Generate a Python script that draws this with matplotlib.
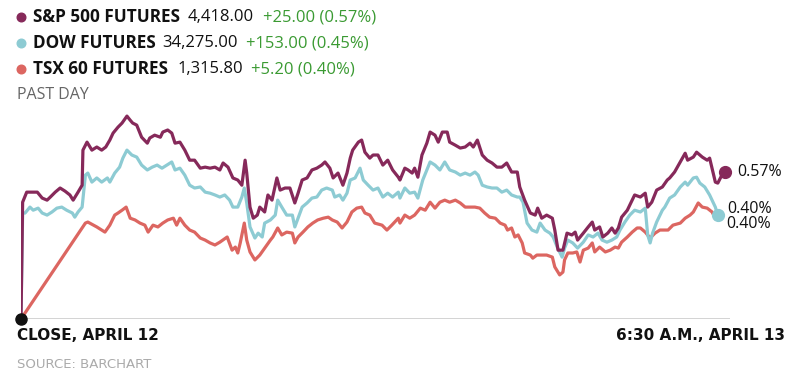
import matplotlib
matplotlib.use("Agg")
import matplotlib.pyplot as plt
from matplotlib.lines import Line2D

# minutes after the April 12 close, and % change
sp_min = [0, 2, 7, 15, 20, 26, 32, 36, 42, 48, 54, 60, 64, 70, 75, 76, 81, 87, 93, 99,
          104, 109, 113, 119, 124, 130, 134, 137, 142, 148, 155, 158, 164, 171, 174, 180, 185, 189, 195, 201,
          207, 213, 220, 226, 232, 238, 244, 248, 254, 260, 266, 271, 275, 277, 281, 285, 290, 293, 299, 303,
          308, 314, 318, 324, 330, 336, 340, 345, 351, 357, 363, 369, 373, 379, 383, 389, 395, 400, 404, 407,
          414, 418, 422, 428, 432, 438, 444, 450, 456, 463, 465, 471, 475, 480, 483, 487, 492, 498, 502, 508,
          512, 517, 523, 526, 533, 539, 545, 551, 555, 560, 566, 572, 578, 584, 590, 596, 602, 609, 612, 618,
          625, 631, 634, 639, 645, 652, 655, 659, 665, 670, 676, 680, 683, 690, 696, 701, 704, 710, 714, 720,
          725, 729, 733, 737, 744, 750, 753, 760, 766, 769, 774, 780, 787, 793, 796, 802, 809, 815, 818, 825,
          829, 836, 842, 845, 852, 855, 860, 864]
sp_pct = [0.0, 0.453, 0.492, 0.492, 0.492, 0.469, 0.461, 0.473, 0.492, 0.508, 0.496, 0.481, 0.461, 0.492, 0.519, 0.655, 0.686, 0.655, 0.667, 0.655,
          0.667, 0.694, 0.721, 0.744, 0.760, 0.787, 0.771, 0.760, 0.752, 0.705, 0.682, 0.702, 0.713, 0.705, 0.725, 0.733, 0.721, 0.682, 0.686, 0.655,
          0.616, 0.616, 0.585, 0.589, 0.585, 0.589, 0.578, 0.605, 0.589, 0.547, 0.539, 0.519, 0.616, 0.566, 0.434, 0.391, 0.403, 0.434, 0.415, 0.481,
          0.461, 0.547, 0.500, 0.508, 0.508, 0.450, 0.488, 0.539, 0.547, 0.578, 0.585, 0.597, 0.609, 0.585, 0.547, 0.566, 0.519, 0.566, 0.624, 0.655,
          0.686, 0.694, 0.647, 0.624, 0.636, 0.636, 0.597, 0.616, 0.578, 0.550, 0.539, 0.585, 0.578, 0.566, 0.585, 0.550, 0.636, 0.682, 0.725, 0.713,
          0.686, 0.725, 0.725, 0.686, 0.674, 0.663, 0.667, 0.682, 0.667, 0.694, 0.636, 0.616, 0.605, 0.589, 0.589, 0.605, 0.570, 0.570, 0.512, 0.461,
          0.411, 0.403, 0.430, 0.391, 0.403, 0.391, 0.345, 0.267, 0.267, 0.333, 0.326, 0.337, 0.306, 0.333, 0.357, 0.376, 0.345, 0.357, 0.318, 0.333,
          0.353, 0.333, 0.353, 0.395, 0.422, 0.461, 0.481, 0.473, 0.488, 0.434, 0.453, 0.500, 0.512, 0.539, 0.547, 0.570, 0.609, 0.643, 0.616, 0.628,
          0.647, 0.628, 0.616, 0.624, 0.531, 0.527, 0.558, 0.570]

dow_min = [0, 2, 5, 11, 15, 21, 26, 32, 38, 44, 50, 56, 63, 66, 70, 75, 79, 82, 87, 93,
           99, 106, 109, 115, 121, 125, 130, 136, 142, 148, 155, 161, 167, 173, 179, 185, 189, 195, 201, 207,
           213, 220, 226, 232, 238, 244, 250, 256, 260, 266, 271, 274, 277, 281, 287, 291, 296, 299, 306, 312,
           315, 320, 326, 333, 336, 340, 345, 351, 357, 363, 369, 375, 382, 385, 391, 395, 400, 404, 410, 416,
           420, 426, 432, 438, 444, 450, 456, 463, 465, 471, 477, 483, 487, 493, 502, 508, 514, 520, 526, 533,
           539, 545, 551, 557, 561, 566, 572, 578, 584, 590, 596, 602, 609, 612, 616, 621, 627, 633, 637, 643,
           649, 653, 658, 664, 667, 671, 677, 683, 690, 696, 702, 708, 713, 719, 725, 731, 735, 741, 747, 753,
           760, 766, 769, 772, 775, 780, 787, 790, 796, 802, 809, 815, 818, 825, 829, 833, 839, 845, 852, 855]
dow_pct = [0.0, 0.411, 0.411, 0.434, 0.422, 0.430, 0.411, 0.403, 0.415, 0.430, 0.434, 0.422, 0.411, 0.395, 0.415, 0.434, 0.558, 0.566, 0.531, 0.547,
           0.531, 0.547, 0.531, 0.566, 0.589, 0.624, 0.655, 0.636, 0.628, 0.597, 0.578, 0.589, 0.597, 0.585, 0.597, 0.609, 0.578, 0.585, 0.558, 0.519,
           0.508, 0.512, 0.492, 0.488, 0.481, 0.473, 0.481, 0.461, 0.434, 0.434, 0.473, 0.508, 0.450, 0.357, 0.314, 0.333, 0.318, 0.372, 0.384, 0.403,
           0.461, 0.434, 0.403, 0.403, 0.357, 0.391, 0.434, 0.450, 0.469, 0.473, 0.500, 0.508, 0.500, 0.473, 0.481, 0.461, 0.488, 0.539, 0.547, 0.585,
           0.539, 0.519, 0.500, 0.508, 0.473, 0.488, 0.473, 0.492, 0.469, 0.508, 0.488, 0.492, 0.469, 0.539, 0.609, 0.597, 0.578, 0.609, 0.578, 0.570,
           0.558, 0.566, 0.558, 0.570, 0.558, 0.519, 0.512, 0.508, 0.508, 0.492, 0.500, 0.481, 0.473, 0.473, 0.453, 0.372, 0.345, 0.337, 0.372, 0.345,
           0.333, 0.318, 0.279, 0.240, 0.275, 0.306, 0.295, 0.275, 0.298, 0.326, 0.318, 0.333, 0.306, 0.298, 0.306, 0.318, 0.345, 0.376, 0.403, 0.422,
           0.415, 0.430, 0.326, 0.295, 0.333, 0.376, 0.422, 0.434, 0.469, 0.481, 0.512, 0.531, 0.519, 0.547, 0.550, 0.527, 0.512, 0.481, 0.434, 0.403]

tsx_min = [0, 79, 82, 93, 103, 109, 115, 119, 124, 129, 134, 140, 146, 152, 156, 162, 168, 174, 180, 187,
           191, 195, 201, 207, 213, 220, 226, 232, 238, 244, 253, 259, 263, 266, 269, 274, 277, 281, 287, 293,
           299, 306, 309, 315, 320, 326, 333, 336, 340, 346, 352, 358, 364, 371, 377, 382, 388, 394, 400, 406,
           412, 418, 422, 428, 434, 443, 449, 455, 463, 465, 471, 477, 483, 490, 496, 502, 508, 514, 520, 526,
           533, 539, 545, 551, 557, 563, 569, 575, 582, 588, 594, 597, 602, 606, 610, 615, 618, 625, 628, 633,
           639, 645, 652, 655, 661, 665, 667, 671, 677, 682, 686, 690, 696, 701, 704, 710, 717, 723, 729, 733,
           737, 744, 750, 756, 760, 766, 772, 778, 784, 794, 800, 809, 815, 821, 825, 831, 836, 842, 848, 852]
tsx_pct = [0.0, 0.372, 0.376, 0.357, 0.337, 0.364, 0.403, 0.411, 0.422, 0.434, 0.391, 0.384, 0.372, 0.364, 0.337, 0.364, 0.357, 0.372, 0.384, 0.391,
           0.364, 0.391, 0.364, 0.345, 0.337, 0.314, 0.306, 0.295, 0.287, 0.298, 0.318, 0.267, 0.279, 0.256, 0.295, 0.372, 0.306, 0.260, 0.229, 0.248,
           0.275, 0.306, 0.318, 0.353, 0.326, 0.337, 0.333, 0.295, 0.318, 0.337, 0.357, 0.372, 0.384, 0.391, 0.395, 0.384, 0.376, 0.353, 0.376, 0.415,
           0.430, 0.434, 0.411, 0.403, 0.372, 0.364, 0.345, 0.364, 0.391, 0.372, 0.403, 0.391, 0.403, 0.430, 0.422, 0.453, 0.430, 0.453, 0.461, 0.453,
           0.461, 0.450, 0.434, 0.434, 0.434, 0.430, 0.411, 0.395, 0.391, 0.372, 0.364, 0.345, 0.353, 0.318, 0.326, 0.295, 0.256, 0.248, 0.236, 0.248,
           0.248, 0.248, 0.240, 0.202, 0.171, 0.182, 0.229, 0.256, 0.256, 0.260, 0.221, 0.267, 0.275, 0.295, 0.260, 0.279, 0.260, 0.267, 0.279, 0.275,
           0.298, 0.318, 0.337, 0.353, 0.353, 0.337, 0.314, 0.333, 0.345, 0.345, 0.364, 0.372, 0.391, 0.403, 0.415, 0.450, 0.434, 0.430, 0.415, 0.391]

names = ["S&P 500 FUTURES", "DOW FUTURES", "TSX 60 FUTURES"]
prices = ["4,418.00", "34,275.00", "1,315.80"]
changes = ["+25.00 (0.57%)", "+153.00 (0.45%)", "+5.20 (0.40%)"]
end_labels = ["0.57%", "0.40%", "0.40%"]
start_label = "CLOSE, APRIL 12"
end_label = "6:30 A.M., APRIL 13"

PURPLE = "#86295a"
BLUE = "#8dcbd3"
RED = "#dc6661"
GREEN = "#3a9a32"
W, H = 803, 376

fig = plt.figure(figsize=(W / 100, H / 100), dpi=100)


def fx(x):
    return x / W


def fy(y):
    return 1 - y / H


ax = fig.add_axes([fx(21), fy(319), fx(730) - fx(21), fy(105) - fy(319)])
ax.set_xlim(0, 870)
ax.set_ylim(0, 0.83)
ax.axis("off")

ax.axhline(0, color="#d0d0d0", lw=1.3, zorder=1)
ax.plot(tsx_min, tsx_pct, color=RED, lw=2.3, zorder=2, solid_joinstyle="round")
ax.plot(dow_min, dow_pct, color=BLUE, lw=2.3, zorder=3, solid_joinstyle="round")
ax.plot(sp_min, sp_pct, color=PURPLE, lw=2.3, zorder=4, solid_joinstyle="round")

ax.plot(dow_min[-1], dow_pct[-1], "o", color=BLUE, ms=8.5, zorder=5, clip_on=False)
ax.plot(sp_min[-1], sp_pct[-1], "o", color=PURPLE, ms=8.5, zorder=6, clip_on=False)
ax.plot(0, 0, "o", color="#111111", ms=8, zorder=7, clip_on=False)

# right-hand % labels
lab_font = dict(family="Open Sans", fontsize=11.5, color="#111111", va="center", ha="left")
ax.annotate(end_labels[0], (sp_min[-1], sp_pct[-1]), xytext=(9, 0), textcoords="offset points", **lab_font)
ax.annotate(end_labels[1], (dow_min[-1], dow_pct[-1]), xytext=(7, 4.5), textcoords="offset points", **lab_font)
ax.annotate(end_labels[2], (tsx_min[-1], tsx_pct[-1]), xytext=(8, -4.5), textcoords="offset points", **lab_font)

# legend header
colors = [PURPLE, BLUE, RED]
rows_y = [17, 43, 69]
price_x = [188, 162, 178]
change_x = [263, 246, 251]
for i in range(3):
    fig.add_artist(Line2D([fx(21)], [fy(rows_y[i])], marker="o", ms=6.2, color=colors[i],
                          transform=fig.transFigure))
    fig.text(fx(33), fy(rows_y[i]), names[i], fontsize=12.3, fontweight="bold", family="Open Sans",
             color="#111111", va="center")
    fig.text(fx(price_x[i]), fy(rows_y[i]), prices[i], fontsize=12, family="Open Sans",
             color="#111111", va="center")
    fig.text(fx(change_x[i]), fy(rows_y[i]), changes[i], fontsize=12, family="Open Sans",
             color=GREEN, va="center")

fig.text(fx(17), fy(95), "PAST DAY", fontsize=11.5, family="Open Sans", color="#666666", va="center")

fig.text(fx(17), fy(336), start_label, fontsize=11, fontweight="bold", family="DejaVu Sans",
         color="#111111", va="center")
fig.text(fx(785), fy(336), end_label, fontsize=11, fontweight="bold", family="DejaVu Sans",
         color="#111111", va="center", ha="right")
fig.text(fx(17), fy(365), "SOURCE: BARCHART", fontsize=9.5, family="DejaVu Sans", color="#aaaaaa",
         va="center")

fig.savefig("out.png", dpi=100)
